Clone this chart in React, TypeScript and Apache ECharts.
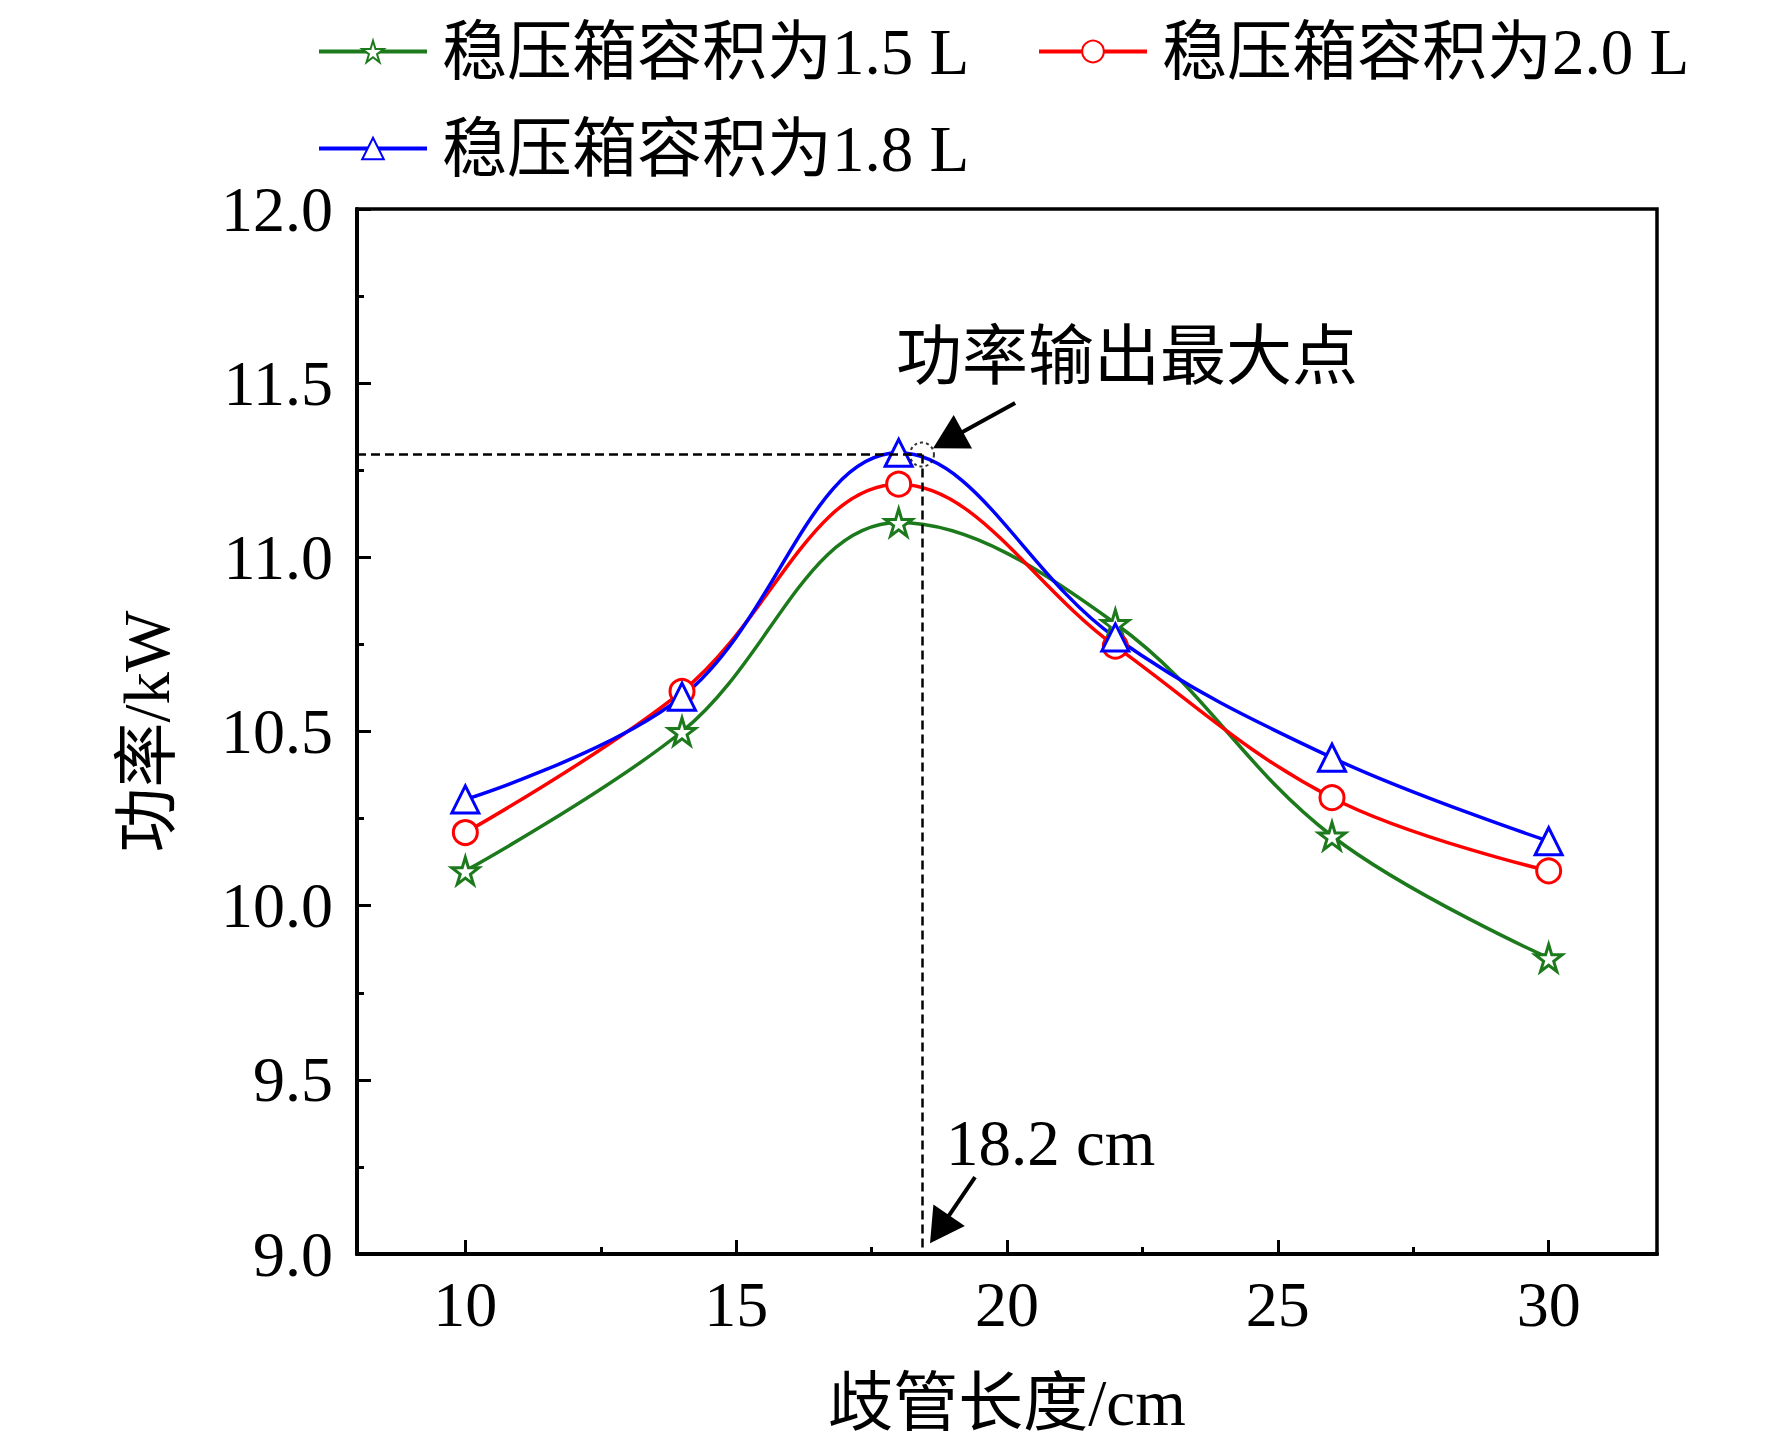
import React, { useEffect, useRef } from "react";
import * as echarts from "echarts";

// ---- data ----
const lengths = [10, 14, 18, 22, 26, 30];
const power15 = [10.1, 10.5, 11.1, 10.81, 10.2, 9.85];
const power20 = [10.21, 10.615, 11.21, 10.745, 10.31, 10.1];
const power18 = [10.305, 10.6, 11.3, 10.77, 10.425, 10.185];
const seriesNames = ["稳压箱容积为1.5 L", "稳压箱容积为2.0 L", "稳压箱容积为1.8 L"];
const xMajorTicks = [10, 15, 20, 25, 30];
const xMinorTicks = [12.5, 17.5, 22.5, 27.5];
const peakPoint = [18.43, 11.295];
const arrowPeak = [[20.15, 11.443], [18.91, 11.337]];
const arrowLen = [[19.41, 9.221], [18.755, 9.071]];
const peakLabel = "功率输出最大点";
const lenLabel = "18.2 cm";

const FONT = '"Liberation Serif", "Times New Roman", "Noto Sans CJK SC", serif';
const STAR = "path://M50,0 L61,35 L98,35 L68,57 L79,91 L50,70 L21,91 L32,57 L2,35 L39,35 Z";

const X_MIN = 8, X_MAX = 32, Y_MIN = 9, Y_MAX = 12;

export default function App() {
  const ref = useRef<HTMLDivElement>(null);
  useEffect(() => {
    document.body.style.margin = "0";
    const chart = echarts.init(ref.current!, null, { renderer: "svg" });
    const pts = (ys: number[]) => lengths.map((x, i) => [x, ys[i]]);
    const mk = (name: string, ys: number[], color: string, symbol: string, size: number) => ({
      name,
      type: "line",
      data: pts(ys),
      smooth: 0.38,
      symbol,
      symbolSize: size,
      lineStyle: { color, width: 3.5 },
      itemStyle: { color: "#fff", borderColor: color, borderWidth: 3 },
      z: 3,
    });
    const legendBase = {
      orient: "horizontal",
      itemWidth: 108,
      itemHeight: 27,
      lineStyle: { width: 4 },
      textStyle: { fontFamily: FONT, fontSize: 65, color: "#000", padding: [0, 0, 0, 10] },
    };
    chart.setOption({
      animation: false,
      backgroundColor: "#fff",
      textStyle: { fontFamily: FONT },
      legend: [
        { ...legendBase, data: [seriesNames[0]], left: 312, top: 14 },
        { ...legendBase, data: [seriesNames[1]], left: 1032, top: 14 },
        { ...legendBase, data: [seriesNames[2]], left: 312, top: 111 },
      ],
      grid: {
        left: 357, top: 209, width: 1300, height: 1045,
        show: true, borderColor: "#000", borderWidth: 3.5, containLabel: false,
      },
      xAxis: [
        {
          type: "value", min: X_MIN, max: X_MAX, position: "bottom",
          name: "歧管长度/cm", nameLocation: "middle", nameGap: 116,
          nameTextStyle: { fontFamily: FONT, fontSize: 65, color: "#000" },
          axisLine: { show: true, lineStyle: { color: "#000", width: 4 } },
          axisTick: { show: true, inside: true, length: 14, customValues: xMajorTicks, lineStyle: { color: "#000", width: 3 } },
          axisLabel: { show: true, customValues: xMajorTicks, margin: 18, fontFamily: FONT, fontSize: 64, color: "#000" },
          splitLine: { show: false },
        },
        {
          type: "value", min: X_MIN, max: X_MAX, position: "bottom", gridIndex: 0,
          axisLine: { show: false },
          axisTick: { show: true, inside: true, length: 7, customValues: xMinorTicks, lineStyle: { color: "#000", width: 3 } },
          axisLabel: { show: false },
          splitLine: { show: false },
        },
      ],
      yAxis: {
        type: "value", min: Y_MIN, max: Y_MAX, interval: 0.5,
        name: "功率/kW", nameLocation: "middle", nameGap: 178, nameRotate: 90,
        nameTextStyle: { fontFamily: FONT, fontSize: 65, color: "#000" },
        axisLine: { show: true, lineStyle: { color: "#000", width: 4 } },
        axisTick: { show: true, inside: true, length: 14, lineStyle: { color: "#000", width: 3 } },
        minorTick: { show: true, splitNumber: 2, length: 7, lineStyle: { color: "#000", width: 3 } },
        axisLabel: { margin: 24, fontFamily: FONT, fontSize: 64, color: "#000", formatter: (v: number) => v.toFixed(1) },
        splitLine: { show: false },
        minorSplitLine: { show: false },
      },
      series: [
        mk(seriesNames[0], power15, "#1c7a1c", STAR, 27),
        mk(seriesNames[1], power20, "#ff0000", "circle", 24),
        mk(seriesNames[2], power18, "#0000ff", "triangle", 27),
        {
          name: "peak",
          type: "scatter",
          data: [peakPoint],
          symbol: "circle",
          symbolSize: 24,
          itemStyle: { color: "rgba(0,0,0,0)", borderColor: "#000", borderWidth: 2, borderType: [3, 3] },
          z: 4,
          markLine: {
            silent: true,
            symbol: ["none", "none"],
            label: { show: false },
            lineStyle: { color: "#000", width: 2.5, type: [9, 5] },
            data: [
              [{ coord: [X_MIN, peakPoint[1]] }, { coord: [peakPoint[0], peakPoint[1]] }],
              [{ coord: [peakPoint[0], peakPoint[1]] }, { coord: [peakPoint[0], Y_MIN] }],
            ],
          },
        },
        {
          name: "arrows",
          type: "line",
          data: [],
          markLine: {
            silent: true,
            symbol: ["none", "triangle"],
            symbolSize: [38, 34],
            label: { show: false },
            lineStyle: { color: "#000", width: 4, type: "solid" },
            data: [
              [{ coord: arrowPeak[0] }, { coord: arrowPeak[1] }],
              [{ coord: arrowLen[0] }, { coord: arrowLen[1] }],
            ],
          },
        },
      ],
      graphic: [
        {
          type: "text", x: 896, y: 356, z: 10,
          style: { text: peakLabel, fontFamily: FONT, fontSize: 66, fill: "#000", align: "left", verticalAlign: "middle" },
        },
        {
          type: "text", x: 946, y: 1143, z: 10,
          style: { text: lenLabel, fontFamily: FONT, fontSize: 65, fill: "#000", align: "left", verticalAlign: "middle" },
        },
      ],
    });
    return () => chart.dispose();
  }, []);
  return <div ref={ref} style={{ width: 1772, height: 1448, overflow: "hidden" }} />;
}
